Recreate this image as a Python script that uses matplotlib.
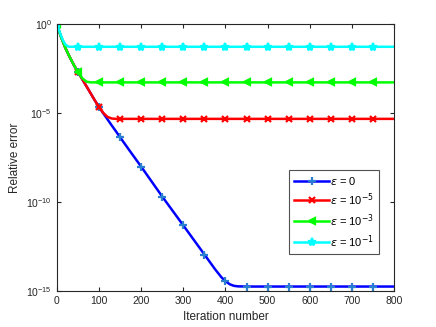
import numpy as np
import matplotlib
matplotlib.use("Agg")
import matplotlib.pyplot as plt

plt.rcParams["font.family"] = ["Liberation Sans", "DejaVu Sans"]
plt.rcParams["mathtext.fontset"] = "dejavusans"

# iteration grid and log10(relative error)
iters = [0, 5, 10, 15, 20, 25, 30, 40, 50, 60, 70, 80, 90, 100, 110, 120, 130,
         140, 150, 175, 200, 250, 300, 350, 375, 390, 400, 410, 420, 430, 450,
         500, 550, 600, 650, 700, 750, 800]
log_eps0 = [0, -0.4, -0.75, -1.05, -1.35, -1.6, -1.85, -2.3, -2.71, -3.1, -3.5,
            -3.9, -4.3, -4.67, -5.02, -5.36, -5.7, -6.03, -6.37, -7.2, -8.02,
            -9.70, -11.32, -12.95, -13.77, -14.22, -14.45, -14.62, -14.71,
            -14.74, -14.75, -14.75, -14.75, -14.75, -14.75, -14.75, -14.75,
            -14.75]
log_eps5 = [0, -0.4, -0.75, -1.05, -1.35, -1.6, -1.85, -2.3, -2.71, -3.1, -3.5,
            -3.9, -4.3, -4.67, -5.0, -5.22, -5.31, -5.33, -5.33, -5.33, -5.33,
            -5.33, -5.33, -5.33, -5.33, -5.33, -5.33, -5.33, -5.33, -5.33,
            -5.33, -5.33, -5.33, -5.33, -5.33, -5.33, -5.33, -5.33]
log_eps3 = [0, -0.4, -0.75, -1.05, -1.35, -1.6, -1.85, -2.3, -2.71, -3.05,
            -3.24, -3.28, -3.28, -3.28, -3.28, -3.28, -3.28, -3.28, -3.28,
            -3.28, -3.28, -3.28, -3.28, -3.28, -3.28, -3.28, -3.28, -3.28,
            -3.28, -3.28, -3.28, -3.28, -3.28, -3.28, -3.28, -3.28, -3.28,
            -3.28]
log_eps1 = [0, -0.35, -0.68, -0.95, -1.15, -1.25, -1.28, -1.28, -1.28, -1.28,
            -1.28, -1.28, -1.28, -1.28, -1.28, -1.28, -1.28, -1.28, -1.28,
            -1.28, -1.28, -1.28, -1.28, -1.28, -1.28, -1.28, -1.28, -1.28,
            -1.28, -1.28, -1.28, -1.28, -1.28, -1.28, -1.28, -1.28, -1.28,
            -1.28]
marker_iters = list(range(0, 751, 50))

labels = [r"$\epsilon$ = 0", r"$\epsilon$ = 10$^{-5}$",
          r"$\epsilon$ = 10$^{-3}$", r"$\epsilon$ = 10$^{-1}$"]

x = np.array(iters)
mk = list(np.nonzero(np.isin(x, marker_iters))[0])

fig = plt.figure(figsize=(4.36, 3.27), dpi=100)
ax = fig.add_axes([0.1307, 0.1101, 0.773, 0.8165])

series = [
    (log_eps0, "#0000ff", "+", "#2a7fd0", 6),
    (log_eps5, "#ff0000", "x", "#ff0000", 5),
    (log_eps3, "#00ff00", "<", "#00ff00", 5),
    (log_eps1, "#00ffff", "*", "#00ffff", 6),
]
for (vals, c, m, mc, ms), lab in zip(series, labels):
    ax.semilogy(x, 10.0 ** np.array(vals), color=c, lw=1.8, marker=m,
                markevery=mk, ms=ms, mec=mc, mfc=mc, mew=1.6, label=lab)

ax.set_xlim(0, 800)
ax.set_ylim(1e-15, 1e0)
ax.set_xticks(range(0, 801, 100))
ax.set_yticks([1e0, 1e-5, 1e-10, 1e-15])
ax.minorticks_off()
ax.tick_params(direction="in", top=True, right=True, labelsize=7.5,
               colors="#262626", length=3, width=0.8)
for s in ax.spines.values():
    s.set_color("#262626")
    s.set_linewidth(0.8)
ax.set_xlabel("Iteration number", fontsize=8.5, color="#262626", labelpad=4)
ax.set_ylabel("Relative error", fontsize=8.5, color="#262626", labelpad=4)

leg = ax.legend(loc="lower right", bbox_to_anchor=(0.955, 0.138), fontsize=8,
                frameon=True, fancybox=False, edgecolor="#262626",
                handlelength=3.2, handletextpad=0.1, borderpad=0.4,
                labelspacing=0.4, borderaxespad=0)
leg.get_frame().set_linewidth(0.8)

fig.savefig("out.png", dpi=100)
